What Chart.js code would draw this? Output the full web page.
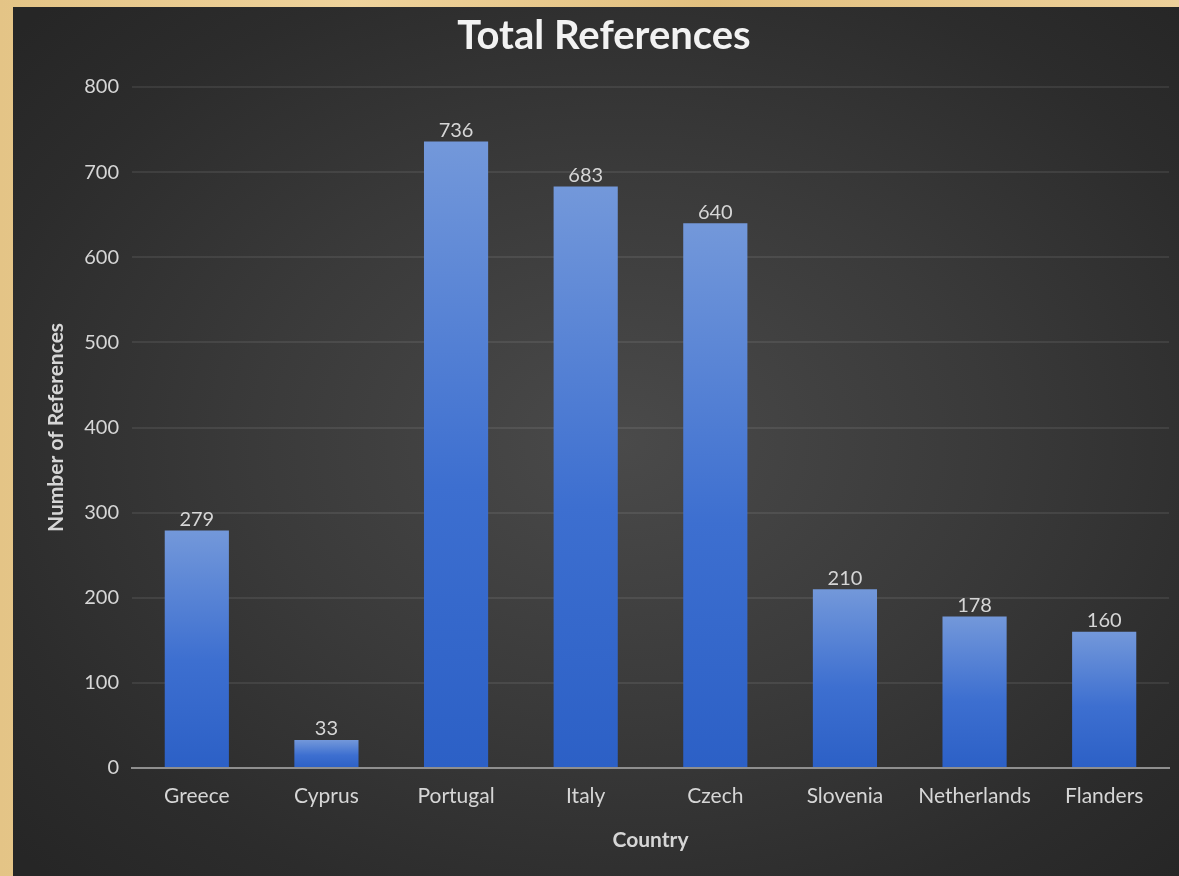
<!DOCTYPE html>
<html>
<head>
<meta charset="utf-8">
<title>Total References</title>
<script src="https://cdn.jsdelivr.net/npm/chart.js@4.4.1/dist/chart.umd.min.js"></script>
<style>
  html, body { margin: 0; padding: 0; }
  body {
    width: 1179px; height: 876px; overflow: hidden; position: relative;
    background: linear-gradient(90deg, #e4c486 0%, #efd39c 30%, #e2c07f 60%, #edd09a 100%);
  }
  #panel {
    position: absolute; left: 13px; top: 7px; width: 1166px; height: 869px;
    background: radial-gradient(ellipse 70% 70% at 52% 50%, #4a4a4a 0%, #3a3a3a 45%, #2c2c2c 80%, #262626 100%);
  }
  canvas { display: block; }
</style>
</head>
<body>
<div id="panel"><canvas id="chart"></canvas></div>
<script>
const countries = ['Greece', 'Cyprus', 'Portugal', 'Italy', 'Czech', 'Slovenia', 'Netherlands', 'Flanders'];
const totalReferences = [279, 33, 736, 683, 640, 210, 178, 160];
const yTicks = [0, 100, 200, 300, 400, 500, 600, 700, 800];

const barTop = '#7398da';
const barBottom = '#2c60c6';
const labelColor = '#d6d6d6';
const fontFamily = 'Lato, "Open Sans", sans-serif';

// Per-bar vertical gradient, lighter at the top
function barFill(ctx) {
  const chart = ctx.chart;
  if (!chart.chartArea || ctx.type !== 'data') return barBottom;
  const y = chart.scales.y;
  const top = y.getPixelForValue(ctx.raw);
  const base = y.getPixelForValue(0);
  const g = chart.ctx.createLinearGradient(0, top, 0, base);
  g.addColorStop(0, barTop);
  g.addColorStop(0.55, '#3d6fd0');
  g.addColorStop(1, barBottom);
  return g;
}

// Value labels above each bar
const valueLabels = {
  id: 'valueLabels',
  afterDatasetsDraw(chart) {
    const ctx = chart.ctx;
    ctx.save();
    ctx.fillStyle = labelColor;
    ctx.font = '20px ' + fontFamily;
    ctx.textAlign = 'center';
    ctx.textBaseline = 'bottom';
    chart.data.datasets.forEach((ds, i) => {
      chart.getDatasetMeta(i).data.forEach((bar, j) => {
        ctx.fillText(String(ds.data[j]), bar.x, bar.y - 1);
      });
    });
    ctx.restore();
  }
};

new Chart(document.getElementById('chart'), {
  type: 'bar',
  data: {
    labels: countries,
    datasets: [{
      label: 'Total References',
      data: totalReferences,
      backgroundColor: barFill,
      borderWidth: 0,
      categoryPercentage: 1.0,
      barPercentage: 0.495
    }]
  },
  options: {
    responsive: true,
    maintainAspectRatio: false,
    animation: false,
    layout: { padding: { left: 26, right: 10, top: 0, bottom: 0 } },
    plugins: {
      legend: { display: false },
      tooltip: { enabled: false },
      title: {
        display: true,
        text: 'Total References',
        color: '#f2f2f2',
        font: { family: fontFamily, size: 40, weight: 'bold' },
        padding: { top: 5, bottom: 27 }
      }
    },
    scales: {
      x: {
        grid: { display: false, drawTicks: false },
        border: { display: true, color: '#8f8f8f', width: 2 },
        ticks: { color: labelColor, font: { family: fontFamily, size: 21 }, padding: 16, maxRotation: 0 },
        title: {
          display: true, text: 'Country', color: labelColor,
          font: { family: fontFamily, size: 21, weight: 'bold' },
          padding: { top: 4, bottom: 23 }
        },
        afterFit(scale) { scale.height = 108; }
      },
      y: {
        min: 0, max: 800,
        afterBuildTicks(scale) { scale.ticks = yTicks.map(v => ({ value: v })); },
        grid: { color: 'rgba(255,255,255,0.08)', lineWidth: 2, drawTicks: false },
        border: { display: false },
        ticks: { color: labelColor, font: { family: fontFamily, size: 20 }, padding: 13 },
        title: {
          display: true, text: 'Number of References', color: labelColor,
          font: { family: fontFamily, size: 21, weight: 'bold' },
          padding: { top: 5, bottom: 0 }
        },
        afterFit(scale) { scale.width = 93; }
      }
    }
  },
  plugins: [valueLabels]
});
</script>
</body>
</html>
